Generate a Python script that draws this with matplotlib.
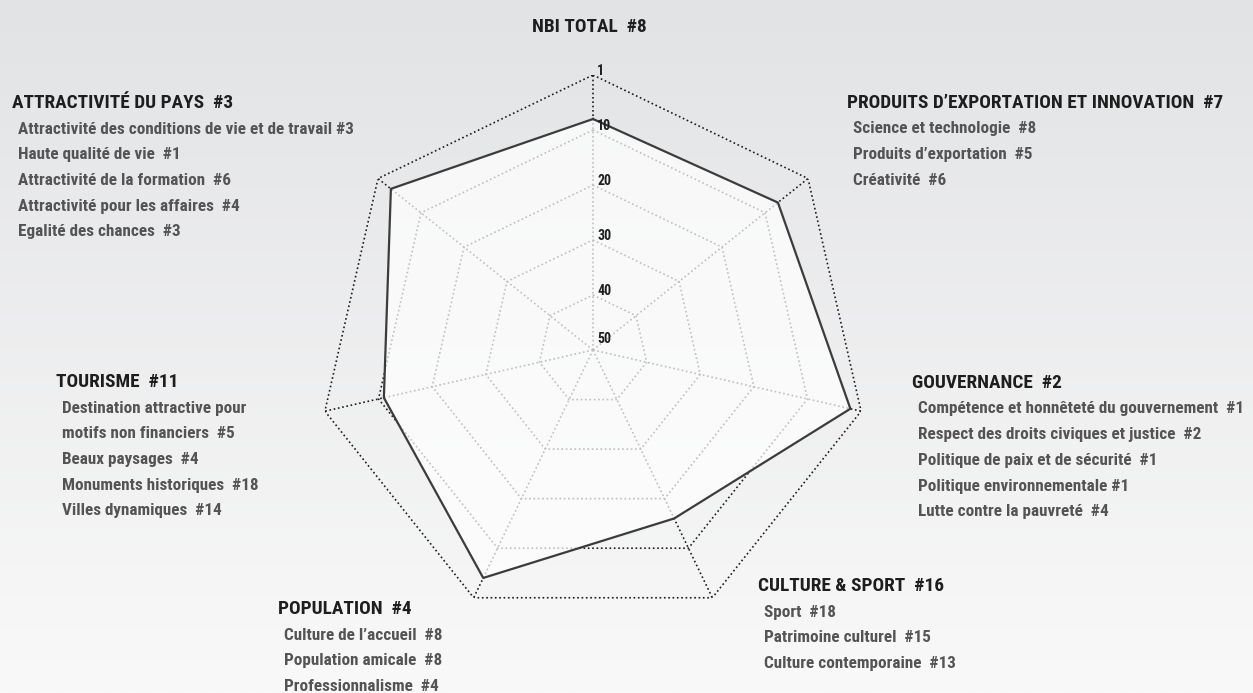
import numpy as np
import matplotlib
matplotlib.use("Agg")
import matplotlib.pyplot as plt

# --- data -------------------------------------------------------------
categories = ["NBI TOTAL", "PRODUITS D\u2019EXPORTATION ET INNOVATION", "GOUVERNANCE",
              "CULTURE & SPORT", "POPULATION", "TOURISME", "ATTRACTIVIT\u00c9 DU PAYS"]
ranks = [8, 7, 2, 16, 4, 11, 3]

sub_items = [
    [],
    ["Science et technologie  #8", "Produits d\u2019exportation  #5", "Cr\u00e9ativit\u00e9  #6"],
    ["Comp\u00e9tence et honn\u00eatet\u00e9 du gouvernement  #1",
     "Respect des droits civiques et justice  #2",
     "Politique de paix et de s\u00e9curit\u00e9  #1",
     "Politique environnementale #1",
     "Lutte contre la pauvret\u00e9  #4"],
    ["Sport  #18", "Patrimoine culturel  #15", "Culture contemporaine  #13"],
    ["Culture de l\u2019accueil  #8", "Population amicale  #8", "Professionnalisme  #4"],
    ["Destination attractive pour", "motifs non financiers  #5", "Beaux paysages  #4",
     "Monuments historiques  #18", "Villes dynamiques  #14"],
    ["Attractivit\u00e9 des conditions de vie et de travail #3", "Haute qualit\u00e9 de vie  #1",
     "Attractivit\u00e9 de la formation  #6", "Attractivit\u00e9 pour les affaires  #4",
     "Egalit\u00e9 des chances  #3"],
]

ring_ranks = [0, 10, 20, 30, 40, 50]
ring_labels = ["1", "10", "20", "30", "40", "50"]
max_rank = 50

# --- layout (pixel positions of the text blocks) ------------------------
W, H = 1253, 693
label_pos = [(589, 27), (847, 103), (912, 383), (758, 586), (278, 609), (56, 382), (12, 103)]
item_step = 25.7

font = ["Roboto Condensed", "DejaVu Sans"]
dark = "#1e1e1e"
grey = "#545454"


def main():
    fig = plt.figure(figsize=(W / 100, H / 100), dpi=100)

    # gradient background
    bg = fig.add_axes([0, 0, 1, 1], zorder=-5)
    grad = np.linspace(0, 1, 256).reshape(-1, 1)
    top = np.array([226, 227, 229]) / 255
    bot = np.array([249, 249, 249]) / 255
    img = top + (bot - top) * grad[:, :, None] * np.ones((1, 1, 3))
    bg.imshow(img, aspect="auto", extent=[0, 1, 0, 1])
    bg.axis("off")

    # radar axes, centre at (593, 350) px, radius 275 px
    cx, cy, rad = 593, 350, 275
    ax = fig.add_axes([(cx - rad) / W, (H - cy - rad) / H, 2 * rad / W, 2 * rad / H],
                      projection="polar")
    ax.set_theta_offset(np.pi / 2)
    ax.set_theta_direction(-1)
    ax.set_ylim(0, max_rank)
    ax.axis("off")
    ax.patch.set_alpha(0)

    n = len(categories)
    angles = np.linspace(0, 2 * np.pi, n, endpoint=False)
    closed = np.append(angles, angles[0])
    dots = (0, (1, 1.6))

    # grid: rings and spokes
    for rr in ring_ranks[:-1]:
        r = max_rank - rr
        ax.plot(closed, [r] * (n + 1), color=dark, lw=1.2, ls=dots, zorder=1)
    for a in angles:
        ax.plot([a, a], [0, max_rank], color=dark, lw=1.2, ls=dots, zorder=1)

    # data polygon
    values = [max_rank - v for v in ranks]
    vals_closed = values + values[:1]
    ax.fill(closed, vals_closed, color="white", alpha=0.72, lw=0, zorder=2)
    ax.plot(closed, vals_closed, color="#3c3c3c", lw=1.6, zorder=3)

    # ring labels along the top spoke
    for rr, lab in zip(ring_ranks, ring_labels):
        dy = 8 if rr == 50 else 3
        ax.annotate(lab, xy=(0, max_rank - rr), xytext=(3, dy), textcoords="offset points",
                    ha="left", va="center", fontsize=10, fontweight="bold",
                    family=font, color=dark, zorder=5)

    # category headers and sub items
    for i, cat in enumerate(categories):
        x, y = label_pos[i]
        head = f"{cat}  #{ranks[i]}"
        fig.text(x / W, 1 - y / H, head, ha="center" if i == 0 else "left", va="center",
                 fontsize=13.9, fontweight="bold", family=font, color=dark)
        for j, item in enumerate(sub_items[i]):
            fig.text((x + 6) / W, 1 - (y + 26 + j * item_step) / H, item, ha="left",
                     va="center", fontsize=12.3, fontweight="bold", family=font, color=grey)

    fig.savefig("out.png", dpi=100)


if __name__ == "__main__":
    main()
